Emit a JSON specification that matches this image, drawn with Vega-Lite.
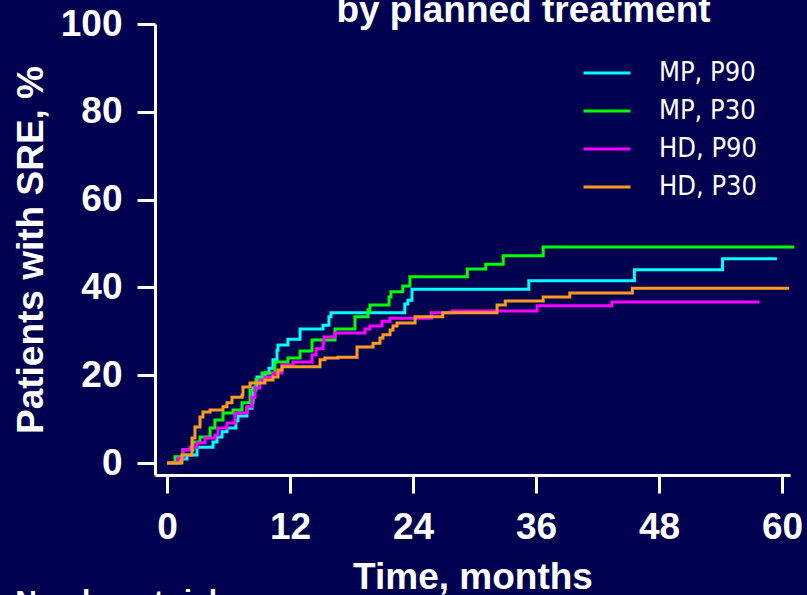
{
  "$schema": "https://vega.github.io/schema/vega-lite/v6.json",
  "width": 635,
  "height": 451,
  "autosize": {"type": "none"},
  "padding": {"left": 155, "top": 24, "right": 17, "bottom": 120},
  "background": "#000050",
  "title": {"text": "by planned treatment", "anchor": "middle", "frame": "group", "dx": 51, "offset": -25, "color": "white", "font": "Liberation Sans", "fontSize": 37, "fontWeight": "bold"},
  "config": {"view": {"stroke": null}},
  "layer": [
    {
      "data": {"values": [
        {"g": "MP, P90", "t": 0, "p": 0},
        {"g": "MP, P90", "t": 1.27, "p": 0.9},
        {"g": "MP, P90", "t": 1.95, "p": 1.8},
        {"g": "MP, P90", "t": 2.93, "p": 3.6},
        {"g": "MP, P90", "t": 4.49, "p": 4.8},
        {"g": "MP, P90", "t": 4.88, "p": 5.9},
        {"g": "MP, P90", "t": 5.37, "p": 7.1},
        {"g": "MP, P90", "t": 5.85, "p": 8.0},
        {"g": "MP, P90", "t": 6.73, "p": 9.6},
        {"g": "MP, P90", "t": 6.93, "p": 10.7},
        {"g": "MP, P90", "t": 7.8, "p": 12.5},
        {"g": "MP, P90", "t": 8.29, "p": 13.7},
        {"g": "MP, P90", "t": 8.39, "p": 17.1},
        {"g": "MP, P90", "t": 8.78, "p": 19.6},
        {"g": "MP, P90", "t": 9.56, "p": 20.5},
        {"g": "MP, P90", "t": 9.95, "p": 21.6},
        {"g": "MP, P90", "t": 10.34, "p": 23.5},
        {"g": "MP, P90", "t": 10.73, "p": 25.7},
        {"g": "MP, P90", "t": 10.83, "p": 26.9},
        {"g": "MP, P90", "t": 11.8, "p": 28.2},
        {"g": "MP, P90", "t": 12.98, "p": 30.5},
        {"g": "MP, P90", "t": 15.22, "p": 31.4},
        {"g": "MP, P90", "t": 15.8, "p": 33.3},
        {"g": "MP, P90", "t": 16.0, "p": 34.2},
        {"g": "MP, P90", "t": 23.2, "p": 36.2},
        {"g": "MP, P90", "t": 23.5, "p": 37.1},
        {"g": "MP, P90", "t": 23.9, "p": 39.6},
        {"g": "MP, P90", "t": 35.3, "p": 41.5},
        {"g": "MP, P90", "t": 45.6, "p": 44.0},
        {"g": "MP, P90", "t": 54.2, "p": 46.5},
        {"g": "MP, P90", "t": 59.5, "p": 46.5},
        {"g": "MP, P30", "t": 0, "p": 0},
        {"g": "MP, P30", "t": 0.78, "p": 1.4},
        {"g": "MP, P30", "t": 1.56, "p": 3.0},
        {"g": "MP, P30", "t": 2.54, "p": 4.8},
        {"g": "MP, P30", "t": 3.22, "p": 5.9},
        {"g": "MP, P30", "t": 4.2, "p": 8.0},
        {"g": "MP, P30", "t": 4.68, "p": 9.8},
        {"g": "MP, P30", "t": 5.46, "p": 11.4},
        {"g": "MP, P30", "t": 6.44, "p": 12.1},
        {"g": "MP, P30", "t": 7.32, "p": 13.7},
        {"g": "MP, P30", "t": 8.1, "p": 16.6},
        {"g": "MP, P30", "t": 8.68, "p": 19.1},
        {"g": "MP, P30", "t": 9.27, "p": 20.5},
        {"g": "MP, P30", "t": 10.54, "p": 23.0},
        {"g": "MP, P30", "t": 11.8, "p": 23.9},
        {"g": "MP, P30", "t": 12.98, "p": 25.5},
        {"g": "MP, P30", "t": 14.15, "p": 28.0},
        {"g": "MP, P30", "t": 16.39, "p": 30.5},
        {"g": "MP, P30", "t": 18.34, "p": 33.3},
        {"g": "MP, P30", "t": 19.61, "p": 34.9},
        {"g": "MP, P30", "t": 19.8, "p": 36.0},
        {"g": "MP, P30", "t": 21.66, "p": 37.8},
        {"g": "MP, P30", "t": 21.85, "p": 39.0},
        {"g": "MP, P30", "t": 23.0, "p": 40.3},
        {"g": "MP, P30", "t": 23.7, "p": 42.4},
        {"g": "MP, P30", "t": 29.3, "p": 44.2},
        {"g": "MP, P30", "t": 31.1, "p": 45.3},
        {"g": "MP, P30", "t": 32.8, "p": 47.2},
        {"g": "MP, P30", "t": 36.7, "p": 49.2},
        {"g": "MP, P30", "t": 61.2, "p": 49.2},
        {"g": "HD, P90", "t": 0, "p": 0},
        {"g": "HD, P90", "t": 1.07, "p": 1.1},
        {"g": "HD, P90", "t": 1.56, "p": 3.0},
        {"g": "HD, P90", "t": 2.24, "p": 3.6},
        {"g": "HD, P90", "t": 2.93, "p": 4.6},
        {"g": "HD, P90", "t": 3.71, "p": 5.7},
        {"g": "HD, P90", "t": 4.68, "p": 6.4},
        {"g": "HD, P90", "t": 4.98, "p": 8.0},
        {"g": "HD, P90", "t": 5.85, "p": 9.1},
        {"g": "HD, P90", "t": 6.63, "p": 11.4},
        {"g": "HD, P90", "t": 7.8, "p": 12.8},
        {"g": "HD, P90", "t": 8.29, "p": 15.0},
        {"g": "HD, P90", "t": 8.59, "p": 17.1},
        {"g": "HD, P90", "t": 9.07, "p": 18.9},
        {"g": "HD, P90", "t": 9.56, "p": 19.6},
        {"g": "HD, P90", "t": 10.34, "p": 20.5},
        {"g": "HD, P90", "t": 11.22, "p": 22.3},
        {"g": "HD, P90", "t": 12.29, "p": 23.0},
        {"g": "HD, P90", "t": 14.15, "p": 24.6},
        {"g": "HD, P90", "t": 14.54, "p": 26.0},
        {"g": "HD, P90", "t": 15.22, "p": 27.3},
        {"g": "HD, P90", "t": 15.32, "p": 28.7},
        {"g": "HD, P90", "t": 16.39, "p": 29.6},
        {"g": "HD, P90", "t": 19.32, "p": 30.5},
        {"g": "HD, P90", "t": 19.8, "p": 31.2},
        {"g": "HD, P90", "t": 20.98, "p": 32.3},
        {"g": "HD, P90", "t": 21.76, "p": 33.0},
        {"g": "HD, P90", "t": 25.8, "p": 34.2},
        {"g": "HD, P90", "t": 27.8, "p": 34.6},
        {"g": "HD, P90", "t": 36.1, "p": 35.8},
        {"g": "HD, P90", "t": 43.4, "p": 36.7},
        {"g": "HD, P90", "t": 57.8, "p": 36.7},
        {"g": "HD, P30", "t": 0, "p": 0},
        {"g": "HD, P30", "t": 1.46, "p": 1.8},
        {"g": "HD, P30", "t": 2.44, "p": 5.7},
        {"g": "HD, P30", "t": 2.73, "p": 8.2},
        {"g": "HD, P30", "t": 3.22, "p": 10.5},
        {"g": "HD, P30", "t": 3.51, "p": 11.6},
        {"g": "HD, P30", "t": 4.2, "p": 12.1},
        {"g": "HD, P30", "t": 5.46, "p": 12.8},
        {"g": "HD, P30", "t": 5.85, "p": 13.7},
        {"g": "HD, P30", "t": 6.34, "p": 15.0},
        {"g": "HD, P30", "t": 7.32, "p": 15.5},
        {"g": "HD, P30", "t": 7.41, "p": 17.3},
        {"g": "HD, P30", "t": 8.1, "p": 18.2},
        {"g": "HD, P30", "t": 9.56, "p": 18.9},
        {"g": "HD, P30", "t": 10.34, "p": 19.6},
        {"g": "HD, P30", "t": 10.83, "p": 21.2},
        {"g": "HD, P30", "t": 11.22, "p": 21.9},
        {"g": "HD, P30", "t": 14.93, "p": 23.5},
        {"g": "HD, P30", "t": 15.41, "p": 23.9},
        {"g": "HD, P30", "t": 16.68, "p": 24.1},
        {"g": "HD, P30", "t": 18.54, "p": 26.4},
        {"g": "HD, P30", "t": 20.1, "p": 27.3},
        {"g": "HD, P30", "t": 20.78, "p": 28.5},
        {"g": "HD, P30", "t": 21.07, "p": 29.2},
        {"g": "HD, P30", "t": 21.76, "p": 30.3},
        {"g": "HD, P30", "t": 22.05, "p": 31.2},
        {"g": "HD, P30", "t": 22.44, "p": 31.9},
        {"g": "HD, P30", "t": 24.2, "p": 33.3},
        {"g": "HD, P30", "t": 26.9, "p": 34.2},
        {"g": "HD, P30", "t": 32.2, "p": 36.0},
        {"g": "HD, P30", "t": 33.0, "p": 36.9},
        {"g": "HD, P30", "t": 36.7, "p": 37.8},
        {"g": "HD, P30", "t": 39.3, "p": 38.7},
        {"g": "HD, P30", "t": 45.4, "p": 39.8},
        {"g": "HD, P30", "t": 60.7, "p": 39.8}
      ]},
      "mark": {"type": "line", "interpolate": "step-after", "strokeWidth": 3, "clip": false},
      "encoding": {
        "x": {
          "field": "t", "type": "quantitative",
          "scale": {"domain": [-1.17, 60.78], "nice": false, "zero": false},
          "axis": {
            "values": [0, 12, 24, 36, 48, 60], "grid": false,
            "title": "Time, months", "titleColor": "white", "titleFont": "Liberation Sans", "titleFontSize": 37, "titleFontWeight": "bold", "titlePadding": 14,
            "domainColor": "white", "domainWidth": 3, "tickColor": "white", "tickWidth": 3, "tickSize": 18,
            "labelColor": "white", "labelFont": "Liberation Sans", "labelFontSize": 37, "labelFontWeight": "bold", "labelPadding": 16
          }
        },
        "y": {
          "field": "p", "type": "quantitative",
          "scale": {"domain": [-2.73, 100], "nice": false, "zero": false},
          "axis": {
            "values": [0, 20, 40, 60, 80, 100], "grid": false,
            "title": "Patients with SRE, %", "titleColor": "white", "titleFont": "Liberation Sans", "titleFontSize": 37, "titleFontWeight": "bold", "titlePadding": 10,
            "domainColor": "white", "domainWidth": 3, "tickColor": "white", "tickWidth": 3, "tickSize": 18,
            "labelColor": "white", "labelFont": "Liberation Sans", "labelFontSize": 37, "labelFontWeight": "bold", "labelPadding": 15
          }
        },
        "color": {
          "field": "g", "type": "nominal",
          "scale": {"domain": ["MP, P90", "MP, P30", "HD, P90", "HD, P30"], "range": ["#00FFFF", "#00FF00", "#FF00FF", "#FF9A20"]},
          "legend": {
            "orient": "none", "legendX": 427, "legendY": 24, "title": null,
            "symbolType": "stroke", "symbolSize": 2209, "symbolStrokeWidth": 3,
            "labelColor": "white", "labelFont": "DejaVu Sans Condensed", "labelFontSize": 27, "labelOffset": 27, "rowPadding": -11, "labelLimit": 300
          }
        }
      }
    },
    {
      "data": {"values": [{"label": "Number at risk"}]},
      "mark": {"type": "text", "align": "left", "baseline": "top", "color": "white", "font": "Liberation Sans", "fontSize": 30, "fontWeight": "bold", "clip": false},
      "encoding": {
        "x": {"datum": -14.8, "type": "quantitative"},
        "y": {"datum": -28.3, "type": "quantitative"},
        "text": {"field": "label", "type": "nominal"}
      }
    }
  ]
}
